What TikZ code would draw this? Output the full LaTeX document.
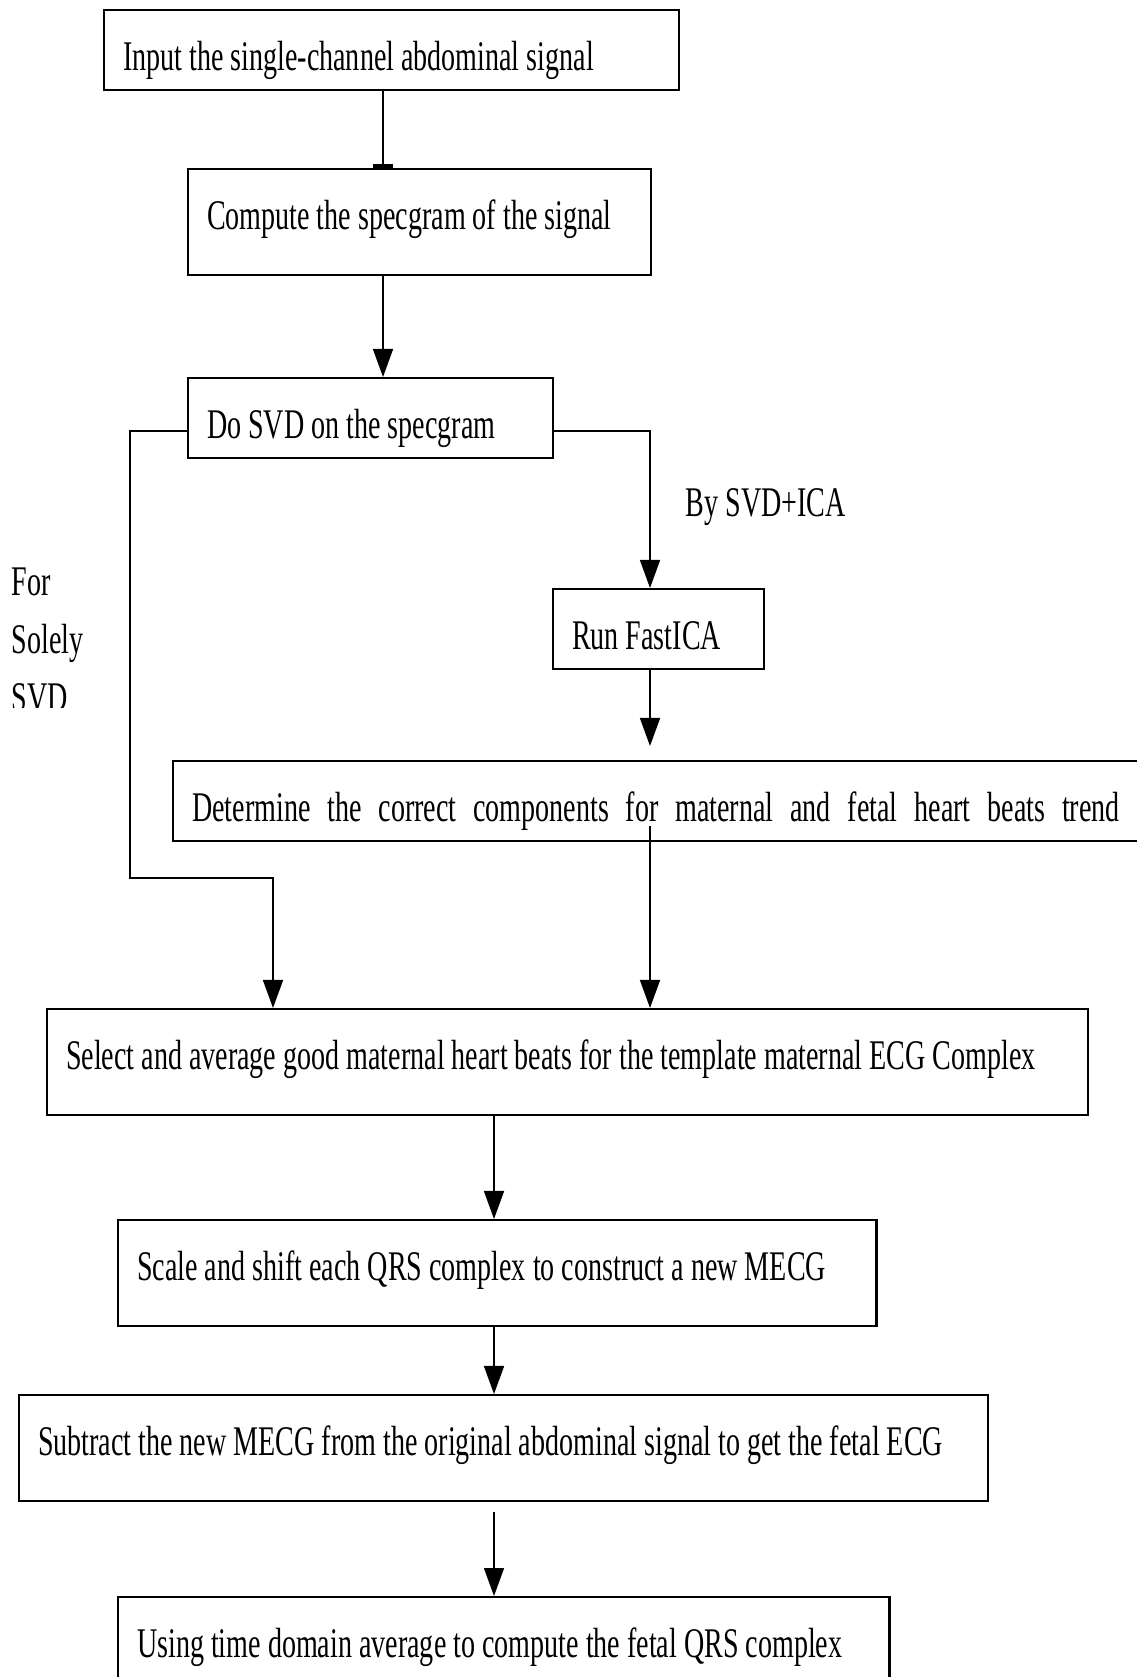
\documentclass[tikz,border=0pt]{standalone}
\usepackage{fontspec}
\setmainfont{Liberation Serif}[FakeStretch=0.665]
\usetikzlibrary{positioning,arrows.meta}

\begin{document}
\begin{tikzpicture}[
    x=0.01cm, y=-0.01cm,
    font=\fontsize{12}{14}\selectfont,
    box/.style={draw, line width=0.6pt, anchor=north west, align=left,
                inner xsep=1.9mm, inner ysep=0pt, text height=6mm,
                execute at begin node={\spaceskip=\fontdimen2\font plus 0.1em minus \fontdimen4\font}},
    shortbox/.style={box, minimum height=8mm, text depth=2mm},
    tallbox/.style ={box, minimum height=10.6mm, text depth=4.6mm},
    arr/.style={line width=0.45pt, -{Triangle[length=2.8mm,width=2mm]}},
    tag/.style={inner sep=0pt}
  ]
    \useasboundingbox (0,0) rectangle (1136,1677);

    % steps
    \node[shortbox, text width=53.7mm] (input) at (103,9) {Input the single-channel abdominal signal};
    \node[tallbox, text width=42.5mm] (spec) at (187,168) {Compute the specgram of the signal};
    \node[shortbox, text width=32.7mm] (svd) at (187,377) {Do SVD on the specgram};
    \node[shortbox, text width=17.3mm] (ica) at (552,588) {Run FastICA};
    \node[shortbox, text width=97mm] (det) at (172,760)
        {\makebox[92.7mm][s]{Determine the correct components for maternal and fetal heart beats trend}};
    \node[tallbox, text width=100.2mm] (sel) at (46,1008) {Select and average good maternal heart beats for the template maternal ECG Complex};
    \node[tallbox, text width=72mm] (scale) at (117,1219) {Scale and shift each QRS complex to construct a new MECG};
    \node[tallbox, text width=93mm] (sub) at (18,1394) {Subtract the new MECG from the original abdominal signal to get the fetal ECG};
    \node[tallbox, text width=73.3mm] (avg) at (117,1596) {Using time domain average to compute the fetal QRS complex};

    % branch labels
    \node[tag, anchor=base west] (bysvd) at (685,517) {By SVD+ICA};
    \begin{scope}
      \clip (0,0) rectangle (170,708);
      \node[tag, anchor=north west, align=left, font=\fontsize{12}{16.5}\selectfont] (solely) at (11,567) {For\\Solely\\SVD};
    \end{scope}

    % connector columns and bends
    \coordinate (colA) at (383,0);
    \coordinate (colB) at (650,0);
    \coordinate (colC) at (494,0);
    \coordinate (bendL) at (130,878);
    \coordinate (bendM) at (273,878);
    \coordinate (detout) at (650,826);

    \draw[line width=0.45pt, -{Bar[width=2mm,line width=1pt]}] (input.south -| colA) -- (spec.north -| colA);
    \draw[arr] (spec.south -| colA) -- (svd.north -| colA);
    \draw[arr] ([yshift=-1.3mm]svd.east) -| (ica.north -| colB);
    \draw[arr] ([yshift=-1.3mm]svd.west) -| (bendL) -- (bendM) -- (sel.north -| bendM);
    \draw[arr, shorten >=1.4mm] (ica.south -| colB) -- (det.north -| colB);
    \draw[arr] (detout) -- (sel.north -| colB);
    \draw[arr] (sel.south -| colC) -- (scale.north -| colC);
    \draw[arr] (scale.south -| colC) -- (sub.north -| colC);
    \draw[arr, shorten <=1mm] (sub.south -| colC) -- (avg.north -| colC);
\end{tikzpicture}
\end{document}
